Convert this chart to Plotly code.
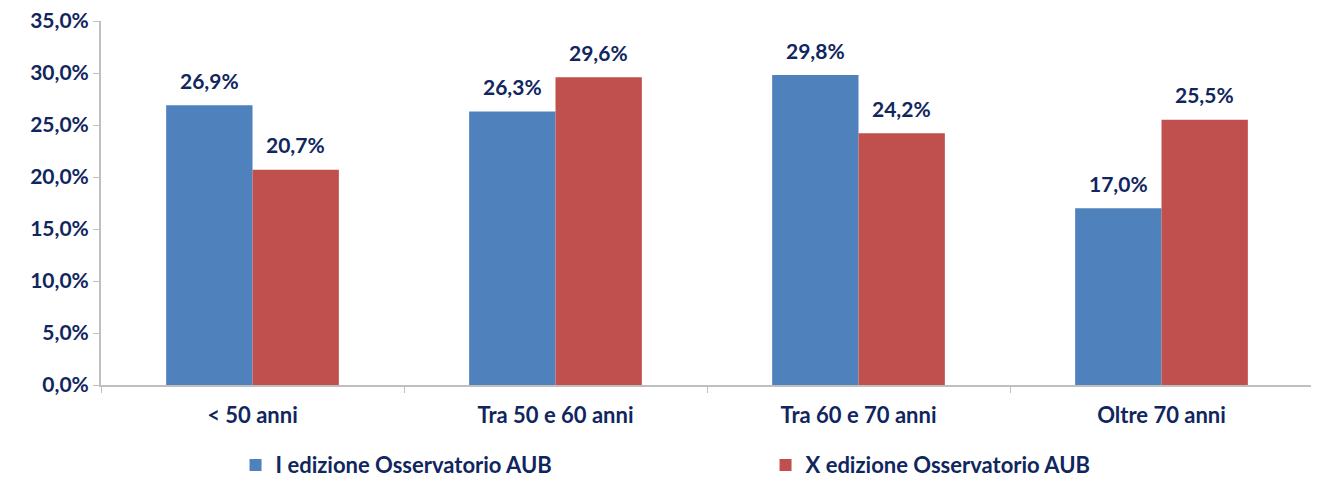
import plotly.graph_objects as go

categories = ["< 50 anni", "Tra 50 e 60 anni", "Tra 60 e 70 anni", "Oltre 70 anni"]
series_names = ["I edizione Osservatorio AUB", "X edizione Osservatorio AUB"]
values_I = [26.9, 26.3, 29.8, 17.0]
values_X = [20.7, 29.6, 24.2, 25.5]
y_ticks = [0, 5, 10, 15, 20, 25, 30, 35]

NAVY = "#10265E"
BLUE = "#4F81BD"
RED = "#C0504D"
GREY = "#BFBFBF"
FONT = "Lato"

def fmt(v):
    return f"{v:.1f}".replace(".", ",") + "%"

fig = go.Figure()
for name, vals, col in [(series_names[0], values_I, BLUE), (series_names[1], values_X, RED)]:
    fig.add_trace(go.Bar(
        x=categories, y=vals, name=name,
        marker=dict(color=col, line=dict(width=0)),
        hoverinfo="skip",
    ))

# data labels
for vals, shift in [(values_I, -43), (values_X, 43)]:
    for c, v in zip(categories, vals):
        fig.add_annotation(
            x=c, y=v, xref="x", yref="y", text=fmt(v), showarrow=False,
            xshift=shift, yshift=25,
            font=dict(family=FONT, size=21, color=NAVY, weight="bold"),
        )

fig.update_layout(
    width=1311, height=469,
    margin=dict(l=93, r=6, t=13, b=92, autoexpand=False),
    paper_bgcolor="white", plot_bgcolor="white",
    barmode="group", bargap=0.43, bargroupgap=0,
    font=dict(family=FONT, size=20, color=NAVY, weight="bold"),
    showlegend=True,
    legend=dict(
        orientation="h", x=0.111, xanchor="left", y=-0.22, yanchor="middle",
        entrywidth=485, entrywidthmode="pixels",
        font=dict(family=FONT, size=22, color=NAVY, weight="bold"),
        itemwidth=30, traceorder="normal",
    ),
)
fig.update_xaxes(
    automargin=False,
    showline=True, linecolor=GREY, linewidth=2,
    ticks="outside", tickson="boundaries", ticklen=6, tickcolor=GREY, tickwidth=1,
    ticklabelstandoff=10,
    tickfont=dict(family=FONT, size=22, color=NAVY, weight="bold"),
    showgrid=False, zeroline=False,
)
fig.update_yaxes(
    automargin=False,
    range=[0, 35], tickvals=y_ticks,
    ticktext=[fmt(t) for t in y_ticks],
    ticklabeloverflow="allow",
    showline=True, linecolor=GREY, linewidth=2,
    ticks="outside", ticklen=6, tickcolor=GREY, tickwidth=1,
    tickfont=dict(family=FONT, size=21, color=NAVY, weight="bold"),
    showgrid=False, zeroline=False,
)

fig.write_html("out.html")
